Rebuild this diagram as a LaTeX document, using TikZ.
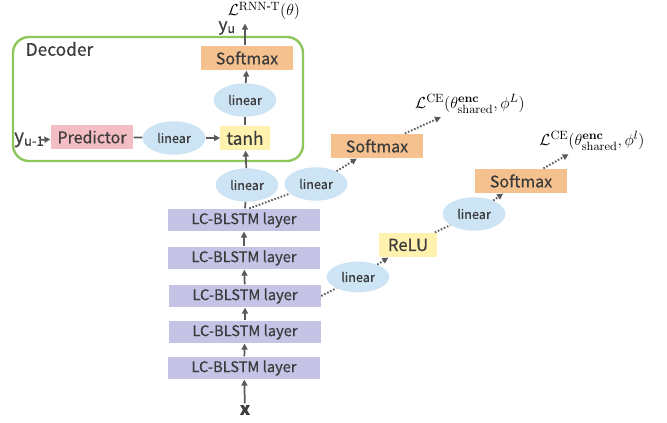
\documentclass[tikz,border=0pt]{standalone}
\usepackage{amsmath}
\usepackage[no-math]{fontspec}
\setmainfont{Noto Sans CJK KR}[FakeBold=0.5]
\usetikzlibrary{arrows.meta,shapes.geometric}
\definecolor{txtgray}{HTML}{3C3C3C}
\definecolor{lingray}{HTML}{5A5A5A}
\definecolor{lstmfill}{HTML}{C5C3E6}
\definecolor{smfill}{HTML}{F5C28F}
\definecolor{predfill}{HTML}{F4BDC4}
\definecolor{actfill}{HTML}{FFF1AE}
\definecolor{linfill}{HTML}{CDE4F5}
\definecolor{decgreen}{HTML}{8DC65A}
\begin{document}
\begin{tikzpicture}[
    x=0.75pt, y=-0.75pt,
    every node/.style={text=txtgray, font=\fontsize{12}{14}\selectfont},
    box/.style={inner sep=0pt, minimum height=18.5pt},
    lstm/.style={box, fill=lstmfill, minimum width=114pt, minimum height=17pt, font=\fontsize{11}{13}\selectfont},
    softmax/.style={box, fill=smfill, minimum width=69pt},
    lin/.style={ellipse, fill=linfill, inner sep=0pt, minimum width=47pt, minimum height=25pt, font=\fontsize{9.5}{11}\selectfont},
    act/.style={box, fill=actfill},
    loss/.style={text=black, inner sep=2.5pt, font=\fontsize{12.5}{14}\selectfont},
    solid arrow/.style={draw=lingray, line width=1.3pt, -{Triangle[length=4.5pt,width=4.5pt]}},
    solid line/.style={draw=lingray, line width=1.3pt},
    dot line/.style={draw=lingray, line width=1.4pt, dash pattern=on 1.2pt off 1.3pt},
    dot arrow/.style={dot line, -{Triangle[length=4.5pt,width=4.5pt]}}
]
  \useasboundingbox (0,0) rectangle (667,423);
  % decoder frame
  \draw[decgreen, line width=1.8pt, rounded corners=12pt] (13,37) rectangle (303,161);
  \node[anchor=west, font=\fontsize{13}{15}\selectfont] (dec) at (21,49) {Decoder};

  \node[softmax] (sm) at (247,58) {Softmax};
  \node[lin] (linc) at (245,100) {linear};
  \node[act, minimum width=37pt, font=\fontsize{13}{15}\selectfont] (tanh) at (245,138) {tanh};
  \node[box, fill=predfill, minimum width=62pt] (pred) at (92,137) {Predictor};
  \node[lin] (linp) at (174,138) {linear};
  \node[anchor=west, inner sep=0pt, font=\fontsize{14}{16}\selectfont] (yin) at (14,140) {y\textsubscript{u-1}};
  \node[inner sep=0pt, font=\fontsize{13}{15}\selectfont] (yu) at (227,28) {y\textsubscript{u}};
  \node[loss] (lrnnt) at (264,11) {$\mathcal{L}^{\mathrm{RNN\text{-}T}}(\theta)$};

  \node[lin] (lina) at (247,185) {linear};
  \node[lin] (linb) at (316,184) {linear};
  \node[softmax] (smb) at (377,146) {Softmax};
  \node[loss] (lceb) at (470,104) {$\mathcal{L}^{\mathrm{CE}}(\theta^{\mathbf{enc}}_{\mathrm{shared}},\phi^{L})$};

  \node[lstm] (l1) at (244,220) {LC-BLSTM layer};
  \node[lstm] (l2) at (244,258) {LC-BLSTM layer};
  \node[lstm] (l3) at (245,296) {LC-BLSTM layer};
  \node[lstm] (l4) at (245,332) {LC-BLSTM layer};
  \node[lstm] (l5) at (244,368) {LC-BLSTM layer};
  \node[inner sep=1pt, font=\bfseries\fontsize{13}{15}\selectfont] (x) at (245,410) {x};

  \node[lin, minimum height=23pt] (lind) at (358,277) {linear};
  \node[act, minimum width=44pt, font=\fontsize{12.5}{14}\selectfont] (relu) at (408,245) {ReLU};
  \node[lin] (line) at (474,214) {linear};
  \node[softmax] (smc) at (521,181) {Softmax};
  \node[loss] (lcec) at (592,141) {$\mathcal{L}^{\mathrm{CE}}(\theta^{\mathbf{enc}}_{\mathrm{shared}},\phi^{l})$};

  \draw[solid arrow] (x) -- (l5);
  \foreach \a/\b in {l5/l4, l4/l3, l3/l2, l2/l1}
    \draw[solid arrow] (\a) -- (\b);
  \draw[solid line] (l1) -- (lina);
  \draw[solid arrow] (lina) -- (tanh);
  \draw[solid line] (tanh) -- (linc);
  \draw[solid arrow] (linc) -- (sm);
  \draw[solid arrow] ([xshift=-1.5pt]sm.north) -- ([xshift=-1.5pt]sm.north |- lrnnt.south);
  \draw[solid arrow] ([xshift=-4pt]yin.east) -- (pred);
  \draw[solid line] (pred) -- (linp);
  \draw[solid arrow] (linp) -- (tanh);

  \draw[dot line] ([xshift=4pt]l1.north) -- (linb);
  \draw[dot arrow] (linb) -- (smb);
  \draw[dot arrow] (smb) -- (lceb);
  \draw[dot line] (l3.east) -- (lind);
  \draw[dot arrow] (lind) -- (relu);
  \draw[dot line] (relu) -- (line);
  \draw[dot arrow] (line) -- (smc);
  \draw[dot arrow] (smc) -- (lcec);
\end{tikzpicture}
\end{document}
